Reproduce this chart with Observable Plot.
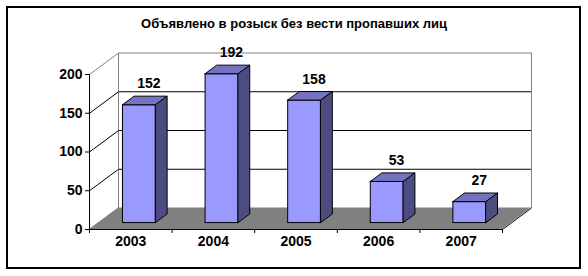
<!DOCTYPE html>
<html><head><meta charset="utf-8">
<script src="https://cdn.jsdelivr.net/npm/d3@7"></script>
<script src="https://cdn.jsdelivr.net/npm/@observablehq/plot@0.6"></script>
<style>
body{margin:0;background:#fff;}
#wrap{position:relative;width:588px;height:276px;overflow:hidden;font-family:"Liberation Sans",Arial,sans-serif;}
#chart{position:absolute;left:0;top:0;}
#border{position:absolute;left:6px;top:6px;width:571px;height:259px;border:2px solid #000;pointer-events:none;}
#title{position:absolute;left:0;width:588px;top:16px;line-height:15px;text-align:center;font-weight:bold;font-size:13px;color:#000;}
</style></head><body>
<div id="wrap"><div id="chart"></div><div id="title">Объявлено в розыск без вести пропавших лиц</div><div id="border"></div></div>
<script>
const years = ["2003", "2004", "2005", "2006", "2007"];
const counts = [152, 192, 158, 53, 27];
const yTicks = [0, 50, 100, 150, 200];
const gridVals = [50, 100, 150];

const W = 588, H = 276;
const mL = 89, mR = 86, mT = 74, mB = 47;
const kx = (W - mL - mR) / years.length, ky = (H - mT - mB) / 200;
const DX = 29 / kx, DY = 21.5 / ky;          // wall depth in data units
const f0 = 0.3, f1 = 0.7, bw = 0.4;           // bar depth fractions and width
const d = (f1 - f0) * DX, dd = (f1 - f0) * DY;

const bars = years.map((yr, i) => ({
  year: yr, i, v: counts[i],
  x1: i + 0.5 - bw / 2 + f0 * DX, x2: i + 0.5 + bw / 2 + f0 * DX,
  y0: f0 * DY, y1: counts[i] + f0 * DY
}));
const topPts = bars.flatMap(b => [
  {z: b.year, x: b.x1, lo: b.y1, hi: b.y1},
  {z: b.year, x: b.x1 + d, lo: b.y1, hi: b.y1 + dd},
  {z: b.year, x: b.x2, lo: b.y1, hi: b.y1 + dd},
  {z: b.year, x: b.x2 + d, lo: b.y1 + dd, hi: b.y1 + dd}
]);
const sidePts = bars.flatMap(b => [
  {z: b.year, x: b.x2, lo: b.y0, hi: b.y1},
  {z: b.year, x: b.x2 + d, lo: b.y0 + dd, hi: b.y1 + dd}
]);
const n = years.length;
const floorPts = [
  {x: 0, lo: 0, hi: 0},
  {x: DX, lo: 0, hi: DY},
  {x: n, lo: 0, hi: DY},
  {x: n + DX, lo: DY, hi: DY}
];

const plot = Plot.plot({
  width: W, height: H,
  marginLeft: mL, marginRight: mR, marginTop: mT, marginBottom: mB,
  x: {type: "linear", domain: [0, n], axis: null},
  y: {type: "linear", domain: [0, 200], axis: null},
  style: {fontFamily: "'Liberation Sans', Arial, sans-serif", fontSize: "14px", fontWeight: "bold", color: "#000", background: "transparent"},
  marks: [
    // back wall
    Plot.link(gridVals, {x1: DX, x2: n + DX, y1: v => v + DY, y2: v => v + DY, stroke: "#000", strokeWidth: 1}),
    Plot.link([200], {x1: DX, x2: n + DX, y1: v => v + DY, y2: v => v + DY, stroke: "#808080", strokeWidth: 1}),
    Plot.link([DX, n + DX], {x1: v => v, x2: v => v, y1: DY, y2: 200 + DY, stroke: "#808080", strokeWidth: 1}),
    // side wall diagonals
    Plot.link(gridVals, {x1: 0, x2: DX, y1: v => v, y2: v => v + DY, stroke: "#000", strokeWidth: 1}),
    Plot.link([200], {x1: 0, x2: DX, y1: v => v, y2: v => v + DY, stroke: "#808080", strokeWidth: 1}),
    // floor
    Plot.areaY(floorPts, {x: "x", y1: "lo", y2: "hi", fill: "#808080", curve: "linear"}),
    Plot.link([0], {x1: n, x2: n + DX, y1: 0, y2: DY, stroke: "#000", strokeWidth: 1}),
    // bars
    Plot.rect(bars, {x1: "x1", x2: "x2", y1: "y0", y2: "y1", fill: "#9999FF", stroke: "#000", strokeWidth: 1}),
    Plot.areaY(topPts, {x: "x", y1: "lo", y2: "hi", z: "z", fill: "#7373BF", stroke: "#000", strokeWidth: 1, curve: "linear"}),
    Plot.areaY(sidePts, {x: "x", y1: "lo", y2: "hi", z: "z", fill: "#4C4C80", stroke: "#000", strokeWidth: 1, curve: "linear"}),
    // axes
    Plot.ruleX([0], {y1: 0, y2: 200, stroke: "#000", strokeWidth: 1}),
    Plot.ruleY([0], {x1: 0, x2: n, stroke: "#000", strokeWidth: 1}),
    Plot.axisY(yTicks, {anchor: "left", tickSize: 4, tickPadding: 3, stroke: "#000", fill: "#000"}),
    Plot.axisX(d3.range(n + 1), {anchor: "bottom", tickSize: 4, tickFormat: () => "", stroke: "#000"}),
    Plot.axisX(years.map((y, i) => i + 0.5), {anchor: "bottom", tickSize: 0, tickPadding: 7, tickFormat: v => years[Math.floor(v)], fill: "#000"}),
    // value labels
    Plot.text(bars, {x: b => b.i + 0.5, y: "v", text: b => String(b.v), dx: 18, dy: -28, fill: "#000"})
  ]
});
document.getElementById("chart").appendChild(plot);
</script>
</body></html>
